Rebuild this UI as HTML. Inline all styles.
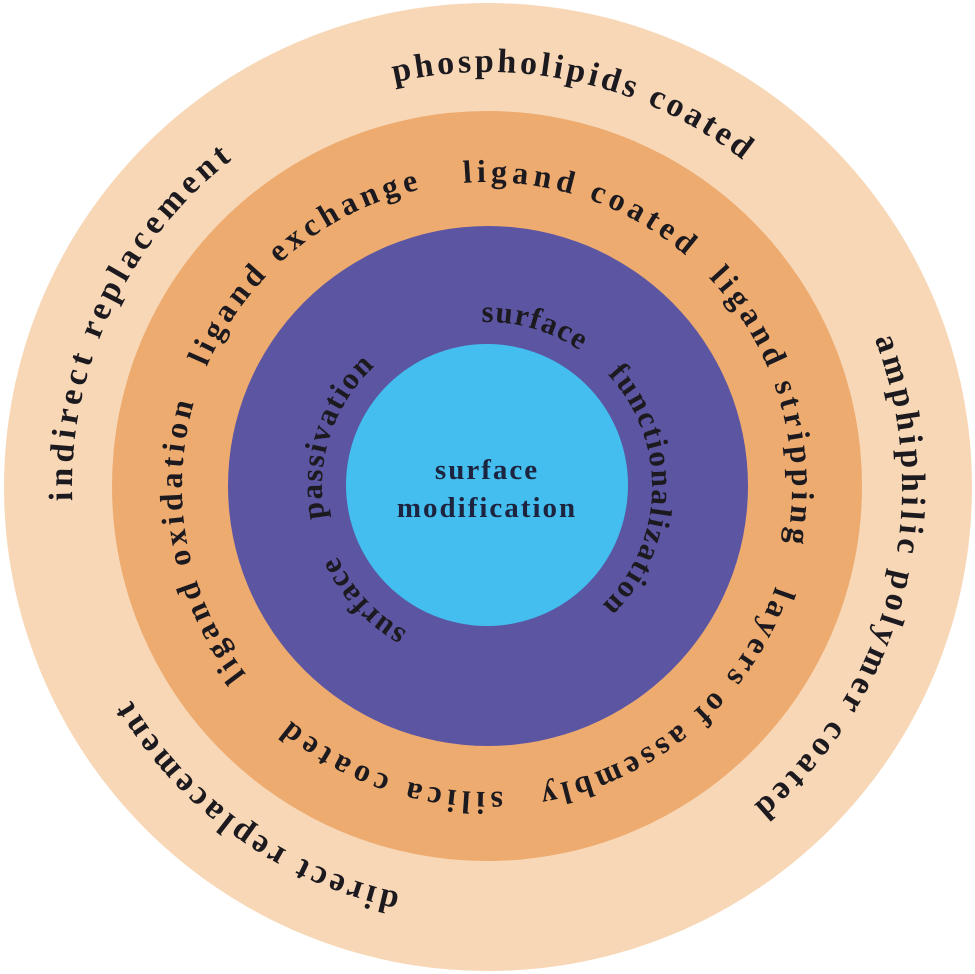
<!DOCTYPE html>
<html><head><meta charset="utf-8"><style>
html,body{margin:0;padding:0;background:#fff;}
svg{display:block;}
text{font-family:"Liberation Serif",serif;fill:#1c1a1f;font-weight:bold;}
</style></head><body>
<svg width="975" height="974" viewBox="0 0 975 974" xmlns="http://www.w3.org/2000/svg">
<defs>
<path id="p1" d="M487,72 A415,415 0 1 1 487,902 A415,415 0 1 1 487,72 A415,415 0 1 1 487,902 A415,415 0 1 1 487,72"/>
<path id="p2" d="M487,182 A305,305 0 1 1 487,792 A305,305 0 1 1 487,182 A305,305 0 1 1 487,792 A305,305 0 1 1 487,182"/>
<path id="p3" d="M487,322 A165,165 0 1 1 487,652 A165,165 0 1 1 487,322 A165,165 0 1 1 487,652 A165,165 0 1 1 487,322"/>
</defs>
<circle cx="488" cy="487" r="484" fill="#F8D7B6"/>
<circle cx="487" cy="486" r="375" fill="#EDAB6F"/>
<circle cx="488" cy="486" r="260" fill="#5B55A2"/>
<circle cx="487" cy="485" r="141" fill="#43BEEE"/>

<g font-size="34">
<text><textPath href="#p1" startOffset="1941" textLength="391" lengthAdjust="spacing">indirect  replacement</textPath></text>
<text><textPath href="#p1" startOffset="2513" textLength="369" lengthAdjust="spacing">phospholipids  coated</textPath></text>
<text><textPath href="#p1" startOffset="500" textLength="514" lengthAdjust="spacing">amphiphilic  polymer  coated</textPath></text>
<text><textPath href="#p1" startOffset="1391" textLength="340" lengthAdjust="spacing">direct  replacement</textPath></text>
</g>
<g font-size="32">
<text><textPath href="#p2" startOffset="1235" textLength="287" lengthAdjust="spacing">ligand oxidation</textPath></text>
<text><textPath href="#p2" startOffset="1560" textLength="287" lengthAdjust="spacing">ligand exchange</textPath></text>
<text><textPath href="#p2" startOffset="1892" textLength="240" lengthAdjust="spacing">ligand coated</textPath></text>
<text><textPath href="#p2" startOffset="248" textLength="287" lengthAdjust="spacing">ligand stripping</textPath></text>
<text><textPath href="#p2" startOffset="580" textLength="325" lengthAdjust="spacing">layers of assembly</textPath></text>
<text><textPath href="#p2" startOffset="942" textLength="229" lengthAdjust="spacing">silica  coated</textPath></text>
</g>
<g font-size="31">
<text><textPath href="#p3" startOffset="1031" textLength="104" lengthAdjust="spacing">surface</textPath></text>
<text><textPath href="#p3" startOffset="135" textLength="256" lengthAdjust="spacing">functionalization</textPath></text>
<text><textPath href="#p3" startOffset="602" textLength="104" lengthAdjust="spacing">surface</textPath></text>
<text><textPath href="#p3" startOffset="746" textLength="167" lengthAdjust="spacing">passivation</textPath></text>
</g>
<text x="487" y="479" font-size="29" text-anchor="middle" letter-spacing="2" style="fill:#1d2440">surface</text>
<text x="487" y="517" font-size="29" text-anchor="middle" letter-spacing="2" style="fill:#1d2440">modification</text>
</svg>
</body></html>
